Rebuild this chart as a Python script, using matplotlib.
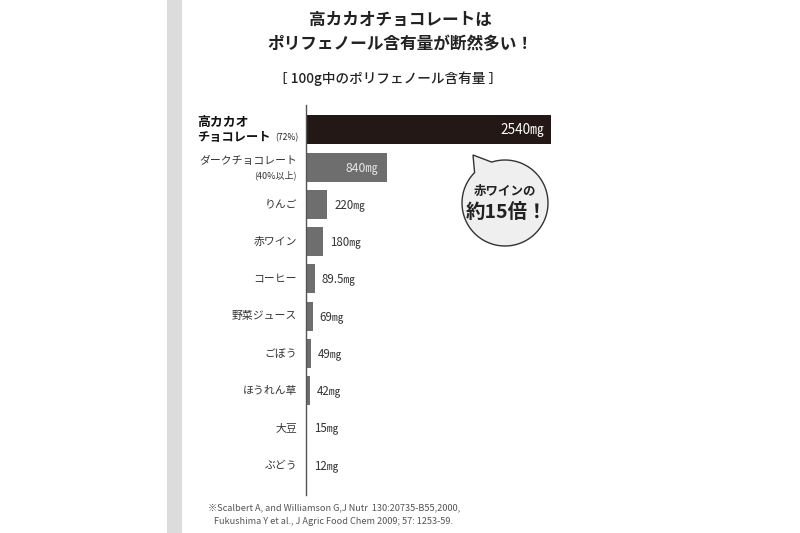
import matplotlib.pyplot as plt
import numpy as np
from matplotlib.patches import Polygon, Rectangle

plt.rcParams["font.family"] = ["Noto Sans CJK JP", "DejaVu Sans"]

# データ
foods = ["高カカオチョコレート", "ダークチョコレート", "りんご", "赤ワイン", "コーヒー",
         "野菜ジュース", "ごぼう", "ほうれん草", "大豆", "ぶどう"]
polyphenol = [2540, 840, 220, 180, 89.5, 69, 49, 42, 15, 12]
value_labels = ["2540", "840", "220", "180", "89.5", "69", "49", "42", "15", "12"]

title_lines = ["高カカオチョコレートは", "ポリフェノール含有量が断然多い！"]
subtitle = "［ 100g中のポリフェノール含有量 ］"
note_lines = ["※Scalbert A, and Williamson G,J Nutr  130:20735-B55,2000,",
              "   Fukushima Y et al., J Agric Food Chem 2009; 57: 1253-59."]

W, H = 800, 533
fig = plt.figure(figsize=(W / 100, H / 100), dpi=100)
fig.patch.set_facecolor("white")

# 棒グラフ
ax = fig.add_axes([306 / W, 1 - 495 / H, 245 / W, (495 - 105) / H])
ax.patch.set_visible(False)
y = np.arange(len(foods))
colors = ["#231815"] + ["#6e6e6e"] * (len(foods) - 1)
ax.barh(y, polyphenol, height=0.78, color=colors)
ax.set_xlim(0, 2540)
ax.set_ylim(9.8, -0.67)
for s in ["top", "right", "bottom"]:
    ax.spines[s].set_visible(False)
ax.spines["left"].set_color("#555555")
ax.spines["left"].set_linewidth(1.0)
ax.set_xticks([])
ax.set_yticks([])

# 値ラベル
for i, (v, lab) in enumerate(zip(polyphenol, value_labels)):
    txt = lab + "㎎"
    if i == 0:
        ax.annotate(txt, (v, i), xytext=(-7, 0), textcoords="offset pixels",
                    ha="right", va="center", color="white", fontsize=9.8, annotation_clip=False)
    elif i == 1:
        ax.annotate(txt, (v, i), xytext=(-9, 0), textcoords="offset pixels",
                    ha="right", va="center", color="#e6e6e6", fontsize=8.8, annotation_clip=False)
    else:
        ax.annotate(txt, (v, i), xytext=(7, 0), textcoords="offset pixels",
                    ha="left", va="center", color="#333333", fontsize=8.3, annotation_clip=False)

# カテゴリラベル
ytr = ax.get_yaxis_transform()
ax.annotate("高カカオ", (0, 0), xycoords=ytr, xytext=(-109, 8), textcoords="offset pixels",
            ha="left", va="center", fontsize=9.3, fontweight="bold", color="#111111")
ax.annotate("チョコレート", (0, 0), xycoords=ytr, xytext=(-109, -8), textcoords="offset pixels",
            ha="left", va="center", fontsize=8.8, fontweight="bold", color="#111111")
ax.annotate("(72%)", (0, 0), xycoords=ytr, xytext=(-8, -8), textcoords="offset pixels",
            ha="right", va="center", fontsize=6.2, color="#222222")
ax.annotate("ダークチョコレート", (0, 1), xycoords=ytr, xytext=(-9, 6), textcoords="offset pixels",
            ha="right", va="center", fontsize=7.8, color="#333333")
ax.annotate("(40%以上)", (0, 1), xycoords=ytr, xytext=(-9, -8), textcoords="offset pixels",
            ha="right", va="center", fontsize=6.5, color="#333333")
for i in range(2, len(foods)):
    ax.annotate(foods[i], (0, i), xycoords=ytr, xytext=(-9, 0), textcoords="offset pixels",
                ha="right", va="center", fontsize=7.8, color="#333333")

# 装飾用オーバーレイ（ピクセル座標）
ov = fig.add_axes([0, 0, 1, 1], zorder=5)
ov.set_xlim(0, W)
ov.set_ylim(H, 0)
ov.axis("off")
ov.patch.set_visible(False)
ov.add_patch(Rectangle((167, 0), 15, H, color="#dcdcdc", lw=0))

# 吹き出し
cx, cy, r = 505, 203, 43
ang = np.deg2rad(np.linspace(-108, 225, 120))
pts = np.column_stack([cx + r * np.cos(ang), cy + r * np.sin(ang)])
pts = np.vstack([[473, 155], pts])
ov.add_patch(Polygon(pts, closed=True, facecolor="#efefef", edgecolor="#333333", lw=1.0))
ov.text(cx, 191, "赤ワインの", ha="center", va="center", fontsize=9, fontweight="bold", color="#222222")
ov.text(cx + 2, 213, "約15倍！", ha="center", va="center", fontsize=14, fontweight="bold", color="#222222")

# タイトル
ov.text(400, 20, title_lines[0], ha="center", va="center", fontsize=12, fontweight="bold", color="#222222")
ov.text(400, 44, title_lines[1], ha="center", va="center", fontsize=12, fontweight="bold", color="#222222")
ov.text(388, 79, subtitle, ha="center", va="center", fontsize=9.8, fontweight="medium", color="#222222")

# 出典
ov.text(208, 508, note_lines[0], ha="left", va="center", fontsize=6.6, color="#555555")
ov.text(208, 522, note_lines[1], ha="left", va="center", fontsize=6.6, color="#555555")

fig.savefig("out.png", dpi=100)
